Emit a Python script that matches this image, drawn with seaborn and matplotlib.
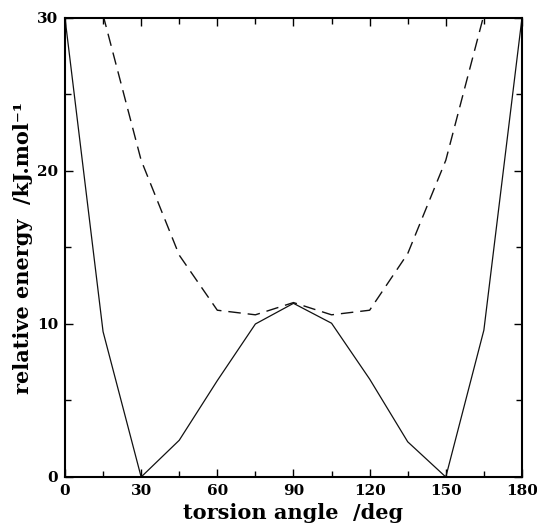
import matplotlib
matplotlib.use("Agg")
import matplotlib.pyplot as plt
import seaborn as sns
import pandas as pd
from matplotlib.ticker import MultipleLocator

# data
angle_solid = [0, 15, 30, 45, 60, 75, 90, 105, 120, 135, 150, 165, 180]
energy_solid = [30.0, 9.5, 0.0, 2.4, 6.3, 10.0, 11.35, 10.05, 6.4, 2.3, 0.0, 9.6, 30.0]
angle_dashed = [15, 30, 45, 60, 75, 90, 105, 120, 135, 150, 165]
energy_dashed = [30.2, 20.7, 14.5, 10.9, 10.6, 11.4, 10.6, 10.9, 14.6, 20.7, 30.2]
xticks = [0, 30, 60, 90, 120, 150, 180]
yticks = [0, 10, 20, 30]

sns.set_style("ticks")
plt.rcParams['font.family'] = ['DejaVu Serif']
plt.rcParams['text.color'] = 'black'
plt.rcParams['axes.labelcolor'] = 'black'
plt.rcParams['xtick.color'] = 'black'
plt.rcParams['ytick.color'] = 'black'

fig = plt.figure(figsize=(5.37, 5.24), dpi=100)
ax = fig.add_axes([0.121, 0.0897, 0.851, 0.876])

df_s = pd.DataFrame({"angle": angle_solid, "energy": energy_solid})
df_d = pd.DataFrame({"angle": angle_dashed, "energy": energy_dashed})
sns.lineplot(data=df_s, x="angle", y="energy", ax=ax, color="#111111", linewidth=0.9)
sns.lineplot(data=df_d, x="angle", y="energy", ax=ax, color="#111111", linewidth=1.0,
             dashes=False, linestyle=(0, (9, 5)))

ax.set_xlim(0, 180)
ax.set_ylim(0, 30)
ax.set_xticks(xticks)
ax.set_yticks(yticks)
ax.xaxis.set_minor_locator(MultipleLocator(15))
ax.yaxis.set_minor_locator(MultipleLocator(5))
ax.tick_params(which="both", direction="in", top=True, right=True, colors="black")
ax.tick_params(which="major", length=6, width=1)
ax.tick_params(which="minor", length=4, width=1)
ax.tick_params(axis="x", which="major", labelsize=11, pad=5)
ax.tick_params(axis="y", which="major", labelsize=11, pad=5)
for lab in ax.get_xticklabels() + ax.get_yticklabels():
    lab.set_fontweight("bold")
for sp in ax.spines.values():
    sp.set_visible(True)
    sp.set_linewidth(1.5)
    sp.set_color("black")

ax.set_xlabel("torsion angle  /deg", fontsize=15, fontweight="bold", labelpad=4, color="black")
ax.set_ylabel("relative energy  /kJ.mol\u207b\u00b9", fontsize=15, fontweight="bold", labelpad=3, color="black")

fig.savefig("out.png", dpi=100, facecolor="white")
